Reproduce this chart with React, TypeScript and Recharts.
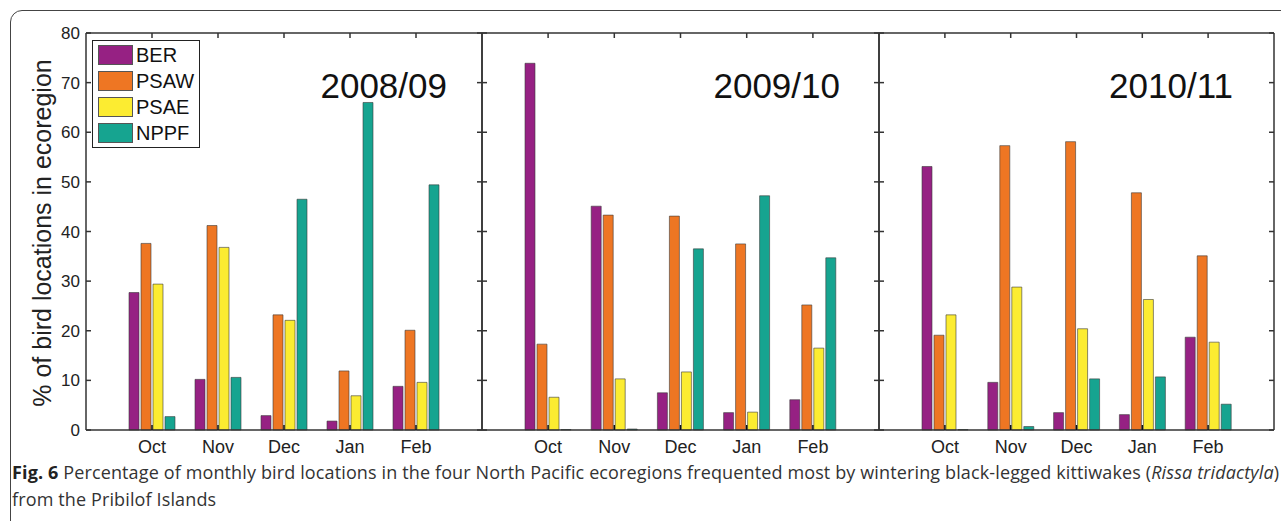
import { BarChart, Bar, XAxis, YAxis } from 'recharts';

const months = ['Oct', 'Nov', 'Dec', 'Jan', 'Feb'];

// 2008/09
const ber0809 = [27.7, 10.2, 2.9, 1.8, 8.8];
const psaw0809 = [37.6, 41.2, 23.2, 11.9, 20.1];
const psae0809 = [29.4, 36.8, 22.1, 6.9, 9.6];
const nppf0809 = [2.7, 10.6, 46.5, 66.0, 49.4];

// 2009/10
const ber0910 = [73.9, 45.1, 7.5, 3.5, 6.1];
const psaw0910 = [17.3, 43.3, 43.1, 37.5, 25.2];
const psae0910 = [6.6, 10.3, 11.7, 3.6, 16.5];
const nppf0910 = [0.1, 0.2, 36.5, 47.2, 34.7];

// 2010/11
const ber1011 = [53.1, 9.6, 3.5, 3.1, 18.7];
const psaw1011 = [19.1, 57.3, 58.1, 47.8, 35.1];
const psae1011 = [23.2, 28.8, 20.4, 26.3, 17.7];
const nppf1011 = [0.1, 0.7, 10.3, 10.7, 5.2];

const seriesKeys = ['BER', 'PSAW', 'PSAE', 'NPPF'];
const seriesColors = ['#962183', '#ee7623', '#fcec31', '#16a490'];
const yTicks = [0, 10, 20, 30, 40, 50, 60, 70, 80];

const FONT = '"Liberation Sans", Arial, Helvetica, sans-serif';
const AXIS = '#333';
const PLOT_TOP = 33;
const PLOT_BOTTOM = 430;
const TICK = 5;

function buildRows(ber: number[], psaw: number[], psae: number[], nppf: number[]) {
  return months.map((m, i) => ({ month: m, BER: ber[i], PSAW: psaw[i], PSAE: psae[i], NPPF: nppf[i] }));
}

const panels = [
  { year: '2008/09', rows: buildRows(ber0809, psaw0809, psae0809, nppf0809), left: 0, width: 500, mLeft: 0, mRight: 17, yWidth: 86, labels: true, yearRight: 447 },
  { year: '2009/10', rows: buildRows(ber0910, psaw0910, psae0910, nppf0910), left: 472, width: 417, mLeft: 9, mRight: 9, yWidth: 1, labels: false, yearRight: 840 },
  { year: '2010/11', rows: buildRows(ber1011, psaw1011, psae1011, nppf1011), left: 869, width: 415, mLeft: 9, mRight: 9, yWidth: 1, labels: false, yearRight: 1233 },
];

type PanelProps = (typeof panels)[number];

// y ticks pointing into the plot, with optional label on the outside
function SideTick(props: any) {
  const { y, payload, edge, dir, showLabel } = props;
  return (
    <g>
      <line x1={edge} x2={edge + dir * TICK} y1={y} y2={y} stroke={AXIS} strokeWidth={1.5} />
      {showLabel && (
        <text x={edge - 6} y={y} dy="0.36em" textAnchor="end" fill="#222" fontSize={17} fontFamily={FONT}>
          {payload.value}
        </text>
      )}
    </g>
  );
}

function BottomTick(props: any) {
  const { x, payload } = props;
  return (
    <g>
      <line x1={x} x2={x} y1={PLOT_BOTTOM} y2={PLOT_BOTTOM - TICK} stroke="#111" strokeWidth={1.5} />
      <text x={x} y={447} dy="0.36em" textAnchor="middle" fill="#222" fontSize={18} fontFamily={FONT}>
        {payload.value}
      </text>
    </g>
  );
}

function TopTick(props: any) {
  const { x } = props;
  return <line x1={x} x2={x} y1={PLOT_TOP} y2={PLOT_TOP + TICK} stroke={AXIS} strokeWidth={1.5} />;
}

function Panel({ rows, left, width, mLeft, mRight, yWidth, labels }: PanelProps) {
  const plotLeft = mLeft + yWidth;
  const plotRight = width - mRight - 1;
  return (
    <div style={{ position: 'absolute', left, top: 0 }}>
      <BarChart
        width={width}
        height={460}
        data={rows}
        margin={{ top: PLOT_TOP - 1, right: mRight, bottom: 0, left: mLeft }}
        barSize={10}
        barGap={2}
      >
        <XAxis
          xAxisId="bottom"
          dataKey="month"
          orientation="bottom"
          height={30}
          padding={{ left: 33, right: 33 }}
          tickLine={false}
          stroke={AXIS}
          strokeWidth={1.5}
          tick={<BottomTick />}
          interval={0}
        />
        <XAxis
          xAxisId="top"
          dataKey="month"
          orientation="top"
          height={1}
          padding={{ left: 33, right: 33 }}
          tickLine={false}
          stroke={AXIS}
          strokeWidth={1.5}
          tick={<TopTick />}
          interval={0}
        />
        <YAxis
          yAxisId="left"
          domain={[0, 80]}
          ticks={yTicks}
          width={yWidth}
          tickLine={false}
          stroke={AXIS}
          strokeWidth={1.5}
          tick={<SideTick edge={plotLeft} dir={1} showLabel={labels} />}
          interval={0}
        />
        <YAxis
          yAxisId="right"
          orientation="right"
          dataKey="BER"
          domain={[0, 80]}
          ticks={yTicks}
          width={1}
          tickLine={false}
          stroke={AXIS}
          strokeWidth={1.5}
          tick={<SideTick edge={plotRight} dir={-1} showLabel={false} />}
          interval={0}
        />
        {seriesKeys.map((k, i) => (
          <Bar
            key={k}
            dataKey={k}
            xAxisId="bottom"
            yAxisId="left"
            fill={seriesColors[i]}
            stroke="#3a3a3a"
            strokeWidth={0.6}
            isAnimationActive={false}
          />
        ))}
      </BarChart>
    </div>
  );
}

export default function App() {
  return (
    <div
      style={{
        position: 'absolute',
        left: 0,
        top: 0,
        width: 1281,
        height: 521,
        overflow: 'hidden',
        background: '#fff',
        fontFamily: FONT,
      }}
    >
      <div
        style={{
          position: 'absolute',
          left: 10,
          top: 10,
          width: 1320,
          height: 600,
          border: '1.5px solid #444',
          borderTopLeftRadius: 12,
        }}
      />
      {panels.map((p) => (
        <Panel key={p.year} {...p} />
      ))}
      {panels.map((p) => (
        <div
          key={'y' + p.year}
          style={{
            position: 'absolute',
            left: p.yearRight - 200,
            width: 200,
            top: 68,
            textAlign: 'right',
            fontSize: 35,
            lineHeight: '35px',
            color: '#111',
          }}
        >
          {p.year}
        </div>
      ))}
      <div
        style={{
          position: 'absolute',
          left: 42 - 220,
          top: 233 - 15,
          width: 440,
          height: 30,
          lineHeight: '30px',
          textAlign: 'center',
          fontSize: 25,
          color: '#222',
          transform: 'rotate(-90deg)',
          transformOrigin: 'center',
        }}
      >
        % of bird locations in ecoregion
      </div>
      <div
        style={{
          position: 'absolute',
          left: 92,
          top: 40,
          width: 108,
          height: 108,
          boxSizing: 'border-box',
          border: '1.5px solid #222',
          background: '#fff',
        }}
      >
        {seriesKeys.map((k, i) => (
          <div key={k} style={{ position: 'absolute', left: 5, top: 4 + i * 26, height: 20, display: 'flex', alignItems: 'center' }}>
            <div style={{ width: 35, height: 20, boxSizing: 'border-box', background: seriesColors[i], border: '1px solid #555' }} />
            <span style={{ marginLeft: 3, fontSize: 20, color: '#111', lineHeight: '20px' }}>{k}</span>
          </div>
        ))}
      </div>
      <div
        style={{
          position: 'absolute',
          left: 12,
          top: 459,
          fontFamily: '"Open Sans", "Noto Sans", sans-serif',
          fontSize: 18,
          letterSpacing: 0.13,
          lineHeight: '27px',
          color: '#333',
          whiteSpace: 'nowrap',
        }}
      >
        <b style={{ color: '#222' }}>Fig. 6</b> Percentage of monthly bird locations in the four North Pacific ecoregions frequented most by
        wintering black-legged kittiwakes (<i>Rissa tridactyla</i>)
        <br />
        from the Pribilof Islands
      </div>
    </div>
  );
}
